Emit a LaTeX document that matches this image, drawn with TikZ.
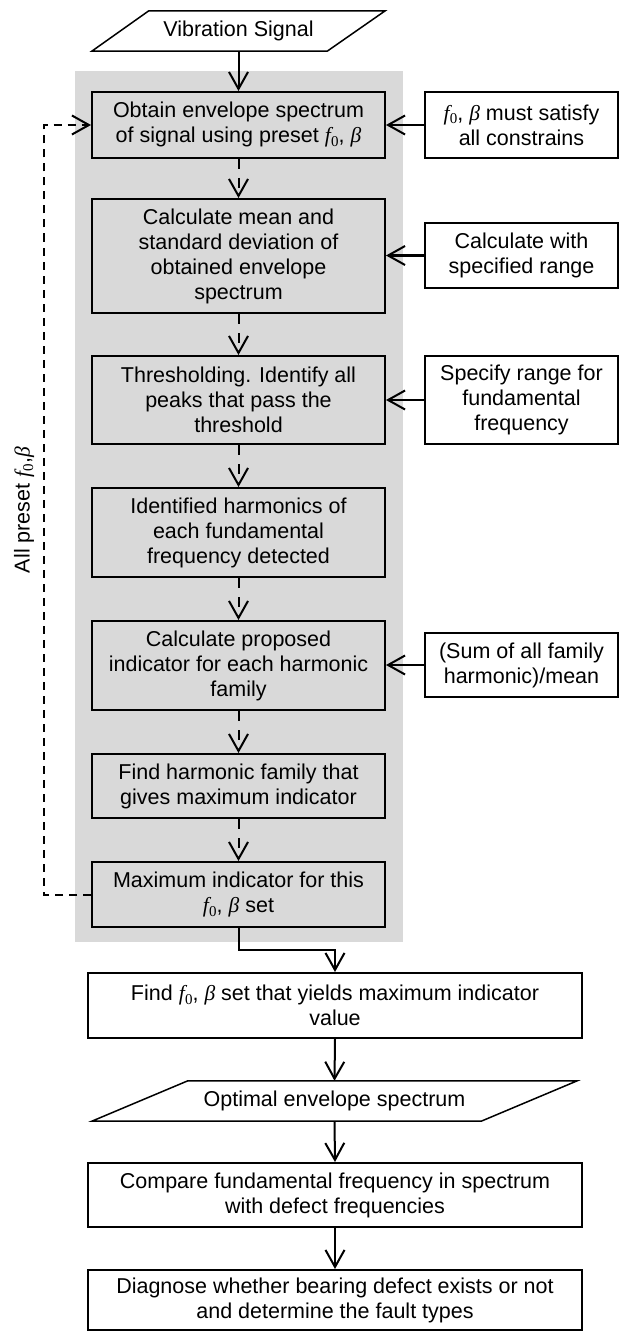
\documentclass[tikz,border=0pt]{standalone}
\usepackage{fontspec}
\setmainfont{Liberation Sans}
\newfontfamily\serifm{Liberation Serif}
\usepackage{graphicx}
\usetikzlibrary{arrows.meta}
\definecolor{bggray}{RGB}{217,217,217}
\newcommand\fzero{{\serifm\itshape f}\kern0.3pt\raisebox{-3.5pt}{\serifm\fontsize{15}{15}\selectfont 0}}
\newcommand\bet{{\serifm\itshape β}}
\newcommand\fb{\fzero, \bet}
\begin{document}
\begin{tikzpicture}[x=1pt,y=-1pt,
  txt/.style={font=\fontsize{21.5}{25}\selectfont, align=center, inner sep=0pt},
  mainbox/.style={txt, draw, line width=2pt, fill=bggray, minimum width=293pt},
  sidebox/.style={txt, draw, line width=2pt, fill=white, minimum width=193pt},
  widebox/.style={txt, draw, line width=2pt, fill=white, minimum width=494pt},
  iobox/.style={txt, minimum height=40pt},
  conn/.style={line width=2pt, -{Straight Barb[length=17pt,width=19pt,line width=2pt]}},
  dconn/.style={conn, dash pattern=on 10pt off 9pt},
  fback/.style={conn, dash pattern=on 8pt off 6pt},
  slanted/.style={line width=1.5pt, line join=miter}
]
\useasboundingbox (0,0) rectangle (621,1332);
% grey background
\fill[bggray] (75,71) rectangle (403,942);

% input
\node[iobox, minimum width=293pt] (vs) at (238.5,31) {Vibration Signal};
\draw[slanted] ([xshift=57pt]vs.north west) -- (vs.north east) -- ([xshift=-58pt]vs.south east) -- (vs.south west) -- cycle;

% main column
\node[mainbox, minimum height=66pt] (b1) at (238.5,125) {Obtain envelope spectrum\\of signal using preset \fb};
\node[mainbox, minimum height=114pt] (b2) at (238.5,256) {Calculate mean and\\standard deviation of\\obtained envelope\\spectrum};
\node[mainbox, minimum height=88pt] (b3) at (238.5,400) {Thresholding. Identify all\\peaks that pass the\\threshold};
\node[mainbox, minimum height=89pt] (b4) at (238.5,532.5) {Identified harmonics of\\each fundamental\\frequency detected};
\node[mainbox, minimum height=89pt] (b5) at (238.5,665.5) {Calculate proposed\\indicator for each harmonic\\family};
\node[mainbox, minimum height=64pt] (b6) at (238.5,786) {Find harmonic family that\\gives maximum indicator};
\node[mainbox, minimum height=65pt] (b7) at (238.5,894.5) {Maximum indicator for this\\\fb{} set};

% side boxes
\node[sidebox, minimum height=66pt] (r1) at (521.5,125) {\fb{} must satisfy\\all constrains};
\node[sidebox, minimum height=65pt] (r2) at (521.5,255.5) {Calculate with\\specified range};
\node[sidebox, minimum height=88pt] (r3) at (521.5,400) {Specify range for\\fundamental\\frequency};
\node[sidebox, minimum height=64pt] (r5) at (521.5,665) {(Sum of all family\\harmonic)/mean};

% lower column
\node[widebox, minimum height=65pt] (b8) at (335,1005.5) {Find \fb{} set that yields maximum indicator\\value};
\node[iobox, minimum width=485pt] (opt) at (334.5,1101) {Optimal envelope spectrum};
\draw[slanted] ([xshift=96pt]opt.north west) -- (opt.north east) -- ([xshift=-96pt]opt.south east) -- (opt.south west) -- cycle;
\node[widebox, minimum height=64pt] (b9) at (335,1195) {Compare fundamental frequency in spectrum\\with defect frequencies};
\node[widebox, minimum height=60pt] (b10) at (335,1300) {Diagnose whether bearing defect exists or not\\and determine the fault types};

% loop label
\node[txt, rotate=90] (lbl) at (24,510) {All preset \fzero,\bet};

% connectors
\draw[conn] (vs.south) -- (b1.north);
\draw[dconn] (b1.south) -- (b2.north);
\draw[dconn] (b2.south) -- (b3.north);
\draw[dconn] (b3.south) -- (b4.north);
\draw[dconn] (b4.south) -- (b5.north);
\draw[dconn] (b5.south) -- (b6.north);
\draw[dconn] (b6.south) -- (b7.north);

\draw[conn] (r1.west) -- (r1.west -| b1.east);
\draw[conn] (r2.west) -- (r2.west -| b2.east);
\draw[conn] (r3.west) -- (r3.west -| b3.east);
\draw[conn] (r5.west) -- (r5.west -| b5.east);

\coordinate (fb) at (44,0);
\draw[fback] (b7.west) -- (b7.west -| fb) |- (b1.west);

\coordinate (turn) at (238.5,950);
\draw[conn] (b7.south) -- (turn) -| (b8.north);
\draw[conn] (b8.south) -- (opt.north);
\draw[conn] (opt.south) -- (b9.north);
\draw[conn] (b9.south) -- (b10.north);
\end{tikzpicture}
\end{document}
